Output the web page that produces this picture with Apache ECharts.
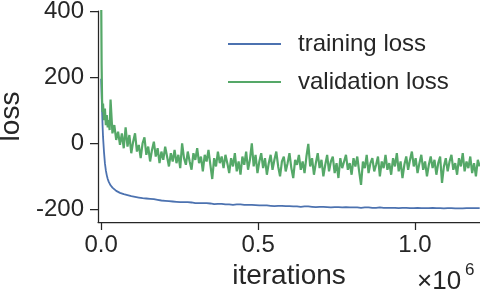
<!DOCTYPE html>
<html>
<head>
<meta charset="utf-8">
<script src="https://cdn.jsdelivr.net/npm/echarts@6/dist/echarts.min.js"></script>
<style>html,body{margin:0;padding:0;background:#fff;}#chart{width:480px;height:292px;}</style>
</head>
<body>
<div id="chart"></div>
<script>
// iterations, in thousands
const iterK = [0,1.5,3,4.5,6,9,12,15,18,21,24,27,
30,36,42,48,54,60,66,72,78,84,
90,96,102,108,114,120,126,132,138,144,
150,156,162,168,174,180,186,192,198,204,
210,216,222,228,234,240,246,252,258,264,
270,276,282,288,294,300,306,312,318,324,
330,336,342,348,354,360,366,372,378,384,
390,396,402,408,414,420,426,432,438,444,
450,456,462,468,474,480,486,492,498,504,
510,516,522,528,534,540,546,552,558,564,
570,576,582,588,594,600,606,612,618,624,
630,636,642,648,654,660,666,672,678,684,
690,696,702,708,714,720,726,732,738,744,
750,756,762,768,774,780,786,792,798,804,
810,816,822,828,834,840,846,852,858,864,
870,876,882,888,894,900,906,912,918,924,
930,936,942,948,954,960,966,972,978,984,
990,996,1002,1008,1014,1020,1026,1032,1038,1044,
1050,1056,1062,1068,1074,1080,1086,1092,1098,1104,
1110,1116,1122,1128,1134,1140,1146,1152,1158,1164,
1170,1176,1182,1188,1194,1200,1206];

const trainingLoss = [195,150,100,55,20,-25,-60,-82,-97,-108,-116,-122,
-127,-134,-139,-144,-147,-150,-152,-154,-156,-157,
-158,-160,-160,-162,-163,-164,-164,-166,-166,-167,
-168,-168,-170,-169,-171,-171,-172,-173,-172,-174,
-174,-175,-174,-176,-176,-177,-176,-178,-177,-178,
-179,-178,-180,-179,-180,-181,-180,-181,-182,-181,
-182,-181,-183,-182,-182,-184,-183,-183,-184,-183,
-184,-185,-184,-185,-184,-186,-185,-185,-186,-185,
-186,-186,-187,-186,-187,-186,-188,-187,-187,-188,
-187,-188,-189,-188,-188,-189,-188,-190,-189,-189,
-190,-189,-190,-190,-191,-190,-190,-191,-190,-191,
-191,-192,-191,-191,-192,-191,-192,-192,-191,-193,
-192,-192,-193,-192,-193,-193,-192,-194,-193,-193,
-194,-193,-193,-194,-194,-193,-195,-194,-194,-194,
-194,-194,-193,-195,-194,-194,-195,-194,-194,-195,
-194,-195,-195,-194,-195,-195,-194,-195,-196,-195,
-195,-195,-194,-196,-195,-195,-196,-195,-195,-196,
-195,-196,-196,-195,-196,-196,-195,-196,-197,-196,
-196,-195,-196,-196,-197,-196,-196,-197,-196,-196,
-197,-196,-196,-197,-196,-197,-196,-197,-197,-196,
-197,-196,-197,-196,-197,-196,-196];

const validationLoss = [470,240,130,95,120,70,105,55,85,48,70,40,
132,30,55,10,35,-5,30,-15,48,-10,
25,-30,5,30,-25,-5,-45,0,18,-35,
-10,-55,-20,5,-40,-15,-60,-25,-50,-10,
-40,-70,-30,-55,-20,-60,-35,-75,0,-45,
-65,-25,-55,-80,-30,-50,-15,-60,-40,-85,
-35,-55,-20,-65,-108,-45,-70,-25,-60,-40,
-75,-35,-60,-90,-45,-70,-30,-85,-55,-95,
-40,-65,-25,-80,-50,0,-70,-35,-90,-55,
-30,-75,-45,-95,-60,-35,-80,-50,-25,-70,
-100,-55,-40,-85,-60,-30,-75,-105,-50,-65,
-35,-80,-55,-90,-40,-2,-70,-45,-95,-60,
-30,-75,-50,-100,-65,-35,-85,-55,-40,-90,
-60,-105,-45,-75,-55,-35,-80,-60,-95,-45,
-70,-40,-85,-126,-55,-75,-35,-90,-60,-45,
-85,-65,-40,-100,-55,-75,-35,-80,-60,-95,
-45,-70,-30,-85,-55,-105,-65,-40,-80,-50,
-25,-70,-45,-90,-60,-35,-80,-55,-100,-65,
-40,-75,-50,-95,-60,-40,-120,-70,-45,-85,
-55,-35,-80,-60,-95,-45,-70,-30,-85,-55,
-75,-40,-90,-60,-100,-50,-70];

const xTicks = [0, 500, 1000];
const yTicks = [-200, 0, 200, 400];
const seriesNames = ['training loss', 'validation loss'];

const FONT = '"Liberation Sans", Arial, Helvetica, sans-serif';
const INK = '#262626';

const chart = echarts.init(document.getElementById('chart'), null, {renderer: 'canvas'});
const pair = (vals) => iterK.map((x, i) => [x, vals[i]]);

chart.setOption({
  animation: false,
  backgroundColor: '#fff',
  grid: {left: 98, right: 0, top: 11, bottom: 70, containLabel: false, outerBoundsMode: 'none'},
  legend: {
    left: 223, top: 27, orient: 'vertical',
    icon: 'rect', itemWidth: 53, itemHeight: 2, itemGap: 14,
    textStyle: {fontFamily: FONT, fontSize: 24, color: INK, padding: [0, 0, 0, 12]},
    data: seriesNames
  },
  xAxis: {
    type: 'value', min: -10, max: 1207,
    name: 'iterations', nameLocation: 'middle', nameGap: 29,
    nameTextStyle: {fontFamily: FONT, fontSize: 28, color: INK},
    axisLine: {show: true, onZero: false, lineStyle: {color: INK, width: 1.25}},
    axisTick: {show: true, length: 8, lineStyle: {color: INK, width: 1.25}, customValues: xTicks},
    axisLabel: {fontFamily: FONT, fontSize: 24, color: INK, margin: 11, customValues: xTicks,
      formatter: (v) => (v / 1000).toFixed(1)},
    splitLine: {show: false}
  },
  yAxis: {
    type: 'value', min: -238, max: 400,
    name: 'loss', nameLocation: 'middle', nameGap: 68, nameRotate: 90,
    nameTextStyle: {fontFamily: FONT, fontSize: 28, color: INK},
    axisLine: {show: true, onZero: false, lineStyle: {color: INK, width: 1.25}},
    axisTick: {show: true, length: 8, lineStyle: {color: INK, width: 1.25}, customValues: yTicks},
    axisLabel: {fontFamily: FONT, fontSize: 24, color: INK, margin: 14, customValues: yTicks},
    splitLine: {show: false}
  },
  graphic: [
    {type: 'text', left: 417, top: 269, style: {text: '×10', fontFamily: FONT, fontSize: 26, fill: INK}},
    {type: 'text', left: 465, top: 262, style: {text: '6', fontFamily: FONT, fontSize: 17, fill: INK}}
  ],
  series: [
    {name: seriesNames[0], type: 'line', data: pair(trainingLoss), symbol: 'none', clip: true,
      color: '#4c72b0', lineStyle: {width: 1.8, color: '#4c72b0'}},
    {name: seriesNames[1], type: 'line', data: pair(validationLoss), symbol: 'none', clip: true,
      color: '#55a868', lineStyle: {width: 2.2, color: '#55a868'}}
  ]
});
</script>
</body>
</html>
